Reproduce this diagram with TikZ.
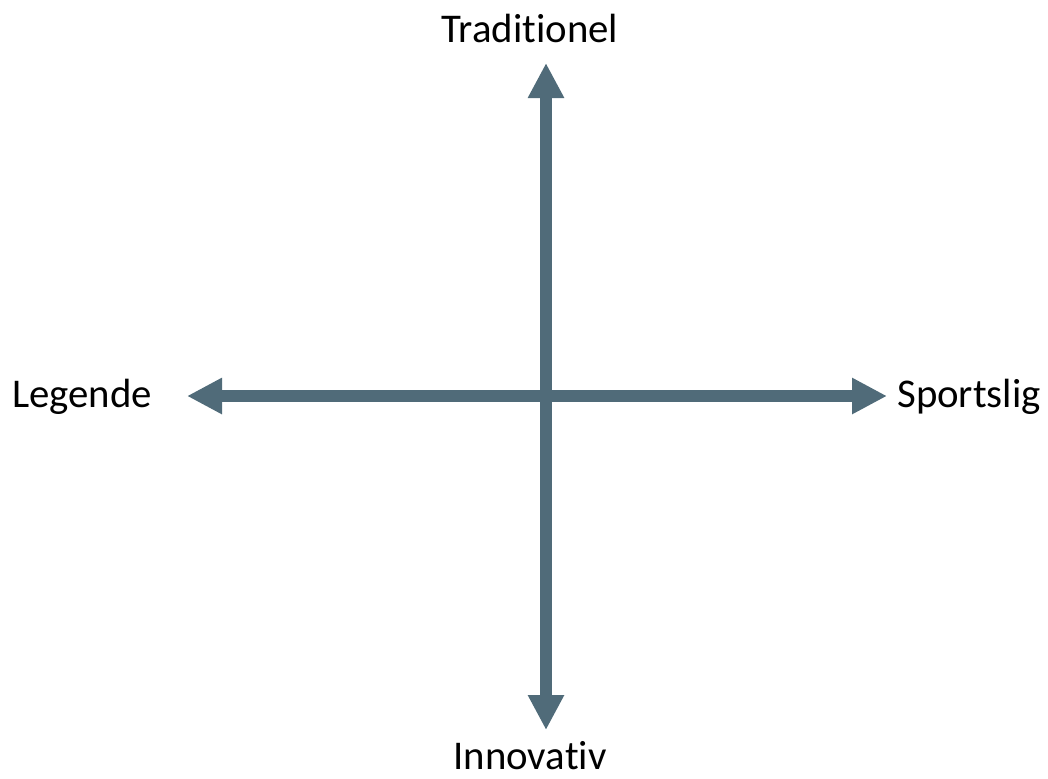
\documentclass[tikz,border=0pt]{standalone}
\usepackage{fontspec}
\setmainfont{Carlito}[Ligatures=NoCommon]
\usepackage{xcolor}
\usepackage{tikz}
\usetikzlibrary{positioning,arrows.meta}
\definecolor{axisgray}{HTML}{506B79}

\begin{document}
\begin{tikzpicture}[
				x=0.5pt, y=-0.5pt,
				axisarrow/.style={draw=axisgray, line width=6pt, {Triangle[width=17pt, length=17.5pt]}-{Triangle[width=17pt, length=17.5pt]}},
				axislabel/.style={inner sep=0pt, anchor=base, font=\fontsize{20.4}{24}\selectfont},
				]
				\useasboundingbox (0,0) rectangle (1048,778);
				%Tips
				\coordinate (top) at (546,63);
				\coordinate (bottom) at (546,730);
				\coordinate (left) at (187,396);
				\coordinate (right) at (887,396);
				
				%Labels
				\node[axislabel](trad) at (530,42){Traditionel};
				\node[axislabel](innov) at (530,769){Innovativ};
				\node[axislabel](leg) at (82,407){Legende};
				\node[axislabel](sport) at (969,407){Sportslig};
				
				%Lines
				\draw[axisarrow] (bottom) -- (top);
				\draw[axisarrow] (left) -- (right);
				
			\end{tikzpicture}
\end{document}
